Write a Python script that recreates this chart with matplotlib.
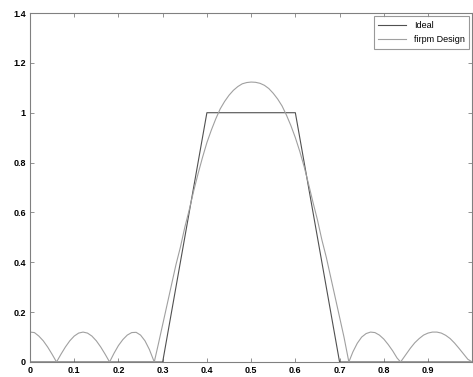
# ideal bandpass vs firpm design magnitude response -> out.png
import matplotlib.pyplot as plt

# ideal response (piecewise linear)
ideal_f = [0.0, 0.3, 0.4, 0.6, 0.7, 1.0]
ideal_a = [0.0, 0.0, 1.0, 1.0, 0.0, 0.0]

# firpm design magnitude
firpm_f = [0.00, 0.01, 0.02, 0.03, 0.04, 0.05, 0.06,
           0.07, 0.08, 0.09, 0.10, 0.11, 0.12, 0.13, 0.14, 0.15, 0.16, 0.17, 0.18,
           0.19, 0.20, 0.21, 0.22, 0.23, 0.24, 0.25, 0.26, 0.27, 0.281,
           0.29, 0.30, 0.31, 0.32, 0.33, 0.34, 0.35, 0.36, 0.37, 0.38, 0.39,
           0.40, 0.41, 0.42, 0.43, 0.44, 0.45, 0.46, 0.47, 0.48, 0.49,
           0.50, 0.51, 0.52, 0.53, 0.54, 0.55, 0.56, 0.57, 0.58, 0.59,
           0.60, 0.61, 0.62, 0.63, 0.64, 0.65, 0.66, 0.67, 0.68, 0.69,
           0.70, 0.71, 0.721,
           0.73, 0.74, 0.75, 0.76, 0.77, 0.78, 0.79, 0.80, 0.81, 0.82, 0.83, 0.838,
           0.85, 0.86, 0.87, 0.88, 0.89, 0.90, 0.91, 0.92, 0.93, 0.94, 0.95,
           0.96, 0.97, 0.98, 0.99, 1.00]
firpm_a = [0.120, 0.118, 0.104, 0.085, 0.060, 0.031, 0.000,
           0.031, 0.060, 0.085, 0.104, 0.116, 0.120, 0.116, 0.104, 0.085, 0.060, 0.031, 0.000,
           0.035, 0.066, 0.090, 0.108, 0.118, 0.119, 0.108, 0.085, 0.050, 0.000,
           0.070, 0.150, 0.230, 0.310, 0.390, 0.460, 0.540, 0.610, 0.685, 0.755, 0.820,
           0.880, 0.930, 0.975, 1.015, 1.045, 1.070, 1.090, 1.105, 1.116, 1.121,
           1.123, 1.122, 1.118, 1.110, 1.097, 1.078, 1.055, 1.027, 0.990, 0.948,
           0.900, 0.845, 0.783, 0.713, 0.640, 0.570, 0.490, 0.420, 0.340, 0.260,
           0.180, 0.100, 0.000,
           0.040, 0.075, 0.100, 0.114, 0.120, 0.118, 0.108, 0.092, 0.070, 0.045, 0.016, 0.000,
           0.030, 0.055, 0.077, 0.094, 0.108, 0.116, 0.120, 0.120, 0.116, 0.107, 0.094,
           0.076, 0.055, 0.033, 0.011, 0.000]

xticks = [0, 0.1, 0.2, 0.3, 0.4, 0.5, 0.6, 0.7, 0.8, 0.9]
xticklabels = ["0", "0.1", "0.2", "0.3", "0.4", "0.5", "0.6", "0.7", "0.8", "0.9"]
yticks = [0, 0.2, 0.4, 0.6, 0.8, 1.0, 1.2, 1.4]
yticklabels = ["0", "0.2", "0.4", "0.6", "0.8", "1", "1.2", "1.4"]

plt.rcParams["font.family"] = ["Liberation Sans", "DejaVu Sans"]

fig = plt.figure(figsize=(4.73, 3.77), dpi=100)
ax = fig.add_axes([0.0634, 0.0398, 0.935, 0.9257])

ax.plot(ideal_f, ideal_a, color="#505050", lw=0.8, label="Ideal")
ax.plot(firpm_f, firpm_a, color="#a0a0a0", lw=0.8, label="firpm Design")

ax.set_xlim(0, 1)
ax.set_ylim(0, 1.4)
ax.set_xticks(xticks)
ax.set_xticklabels(xticklabels)
ax.set_yticks(yticks)
ax.set_yticklabels(yticklabels)
ax.tick_params(direction="in", length=3, width=0.6, color="#808080",
               top=True, right=True, labelsize=6.5, pad=3)
for lab in ax.get_xticklabels() + ax.get_yticklabels():
    lab.set_fontweight("bold")
for sp in ax.spines.values():
    sp.set_color("#808080")
    sp.set_linewidth(0.8)

leg = ax.legend(loc="upper right", fontsize=6.5, frameon=True, fancybox=False,
                handlelength=3.1, borderpad=0.5, labelspacing=0.6,
                borderaxespad=0.35)
leg.get_frame().set_edgecolor("#808080")
leg.get_frame().set_linewidth(0.8)

fig.savefig("out.png", dpi=100)
